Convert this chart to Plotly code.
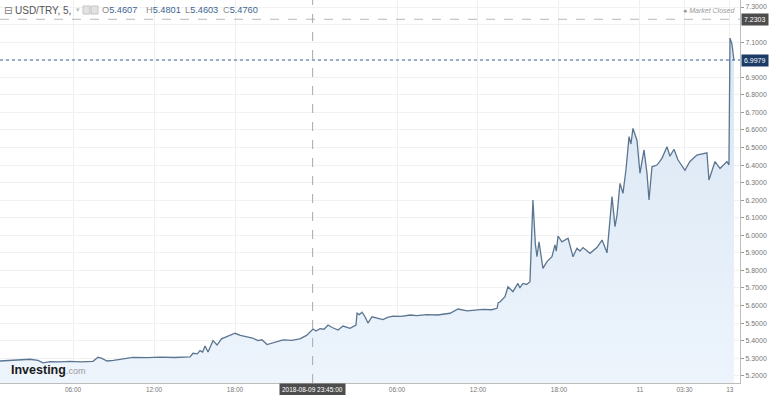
import plotly.graph_objects as go

# compressed trading hours since 2018-08-09 00:00 (weekend gaps removed)
hours = [0.59, 1.5, 2.81, 3.4, 3.78, 4.30, 5.0, 5.78, 6.6, 7.48, 7.85, 8.1, 8.52, 9.0, 9.70,
         10.44, 11.5, 12.44, 13.5, 14.67, 14.89, 15.2, 15.41, 15.6, 15.78, 16.00, 16.37, 16.67,
         17.0, 17.41, 18.00, 18.4, 18.89, 19.3, 19.70, 20.0, 20.37, 20.9, 21.56, 22.2, 22.81,
         23.3, 23.78, 24.0, 24.30, 24.6, 24.89, 25.2, 25.63, 26.00, 26.52, 26.96, 27.04, 27.2,
         27.41, 27.63, 27.85, 28.15, 28.5, 28.96, 29.3, 29.70, 30.3, 31.0, 31.48, 32.2, 33.0,
         33.93, 34.52, 35.19, 35.8, 36.37, 37.0, 37.41, 37.5, 37.63, 38.00, 38.22, 38.59, 38.96,
         39.1, 39.33, 39.6, 39.85, 40.07, 40.25, 40.37, 40.52, 40.81, 41.11, 41.48, 41.70, 41.8,
         41.93, 42.22, 42.67, 43.04, 43.33, 43.55, 43.78, 44.30, 44.81, 45.19, 45.56, 45.93,
         46.15, 46.30, 46.52, 46.74, 46.96, 47.19, 47.33, 47.48, 47.78, 48.00, 48.30, 48.52,
         48.67, 48.89, 49.26, 49.63, 50.00, 50.22, 50.52, 50.81, 51.33, 51.70, 52.22, 52.96,
         53.11, 53.56, 53.93, 54.44, 54.59, 54.67, 54.81, 54.96]
prices = [5.284, 5.288, 5.294, 5.288, 5.274, 5.281, 5.279, 5.282, 5.279, 5.282, 5.305, 5.300,
          5.284, 5.288, 5.297, 5.305, 5.303, 5.306, 5.304, 5.307, 5.328, 5.325, 5.343, 5.335,
          5.37, 5.335, 5.40, 5.375, 5.41, 5.422, 5.442, 5.43, 5.422, 5.415, 5.40, 5.405, 5.378,
          5.39, 5.404, 5.402, 5.41, 5.43, 5.466, 5.455, 5.468, 5.465, 5.489, 5.475, 5.46, 5.483,
          5.47, 5.489, 5.556, 5.548, 5.562, 5.536, 5.50, 5.536, 5.528, 5.52, 5.532, 5.54, 5.538,
          5.546, 5.543, 5.548, 5.546, 5.556, 5.58, 5.57, 5.574, 5.578, 5.576, 5.584, 5.616, 5.62,
          5.65, 5.707, 5.679, 5.726, 5.70, 5.726, 5.72, 5.736, 6.201, 5.95, 5.878, 5.963, 5.812,
          5.85, 5.878, 5.945, 5.91, 5.996, 5.963, 5.983, 5.878, 5.926, 5.91, 5.93, 5.897, 5.93,
          5.973, 5.90, 6.22, 6.049, 6.115, 6.296, 6.239, 6.372, 6.562, 6.52, 6.609, 6.54, 6.353,
          6.486, 6.353, 6.201, 6.39, 6.40, 6.438, 6.504, 6.45, 6.49, 6.43, 6.37, 6.42, 6.457,
          6.47, 6.315, 6.42, 6.38, 6.42, 6.40, 7.123, 7.09, 6.998]

x_tick_vals = [6, 12, 18, 30, 36, 42, 48, 51.3, 54.65]
x_tick_text = ["06:00", "12:00", "18:00", "06:00", "12:00", "18:00", "11", "03:30", "13"]
# 7.0 and 7.2 labels are hidden behind the price flags in the original
y_tick_vals = [5.2, 5.3, 5.4, 5.5, 5.6, 5.7, 5.8, 5.9, 6.0, 6.1, 6.2, 6.3, 6.4, 6.5, 6.6,
               6.7, 6.8, 6.9, 7.1, 7.3]
y_hidden_grid = [7.0, 7.2]
crosshair_hour = 23.75
crosshair_label = "2018-08-09 23:45:00"
high_price = 7.2303
last_price = 6.9979
header_symbol = "⊟"
header_name = "USD/TRY, 5,"
ohlc_keys = ["O", "H", "L", "C"]
ohlc_vals = ["5.4607", "5.4801", "5.4603", "5.4760"]
ohlc_pos = [100, 144, 183, 221]

FONT = "Liberation Sans"
W, H = 769, 395
PL, PR, PT, PB = 0, 29, 0, 12
pw, ph = W - PL - PR, H - PT - PB

def px(x):
    return x / pw

def py(y):
    return 1 - y / ph

fig = go.Figure()
fig.add_trace(go.Scatter(
    x=hours, y=prices, mode="lines",
    line=dict(color="#5b7591", width=1.3),
    fill="tozeroy",
    fillgradient=dict(type="vertical", start=5.16, stop=6.8,
                      colorscale=[[0, "#edf4fc"], [1, "#dce8f5"]]),
    hoverinfo="skip", showlegend=False,
))

shapes = [
    dict(type="line", xref="paper", x0=0, x1=1, yref="y", y0=g, y1=g, layer="below",
         line=dict(color="#f1f1f1", width=1)) for g in y_hidden_grid
] + [
    dict(type="line", xref="paper", x0=0, x1=1, yref="y", y0=high_price, y1=high_price,
         line=dict(color="#b8b8b8", width=1, dash="dash")),
    dict(type="line", xref="paper", x0=0, x1=1, yref="y", y0=last_price, y1=last_price,
         line=dict(color="#3f6795", width=1, dash="dot")),
    dict(type="line", xref="x", x0=crosshair_hour, x1=crosshair_hour, yref="paper", y0=0, y1=1,
         line=dict(color="#a8a8a8", width=1, dash="dash")),
    dict(type="rect", xref="paper", yref="paper", x0=px(83), x1=px(90), y0=py(14), y1=py(6),
         fillcolor="#e2e2e2", line=dict(color="#c4c4c4", width=1)),
    dict(type="rect", xref="paper", yref="paper", x0=px(91), x1=px(98), y0=py(14), y1=py(6),
         fillcolor="#e2e2e2", line=dict(color="#c4c4c4", width=1)),
]

annotations = [
    dict(text=header_symbol, xref="paper", yref="paper", x=px(2), y=py(10), xanchor="left",
         yanchor="middle", showarrow=False, font=dict(family="DejaVu Sans", size=10, color="#777")),
    dict(text=header_name, xref="paper", yref="paper", x=px(13), y=py(10), xanchor="left",
         yanchor="middle", showarrow=False, font=dict(family=FONT, size=10, color="#555")),
    dict(text="▾", xref="paper", yref="paper", x=px(74), y=py(10), xanchor="left",
         yanchor="middle", showarrow=False, font=dict(family="DejaVu Sans", size=7, color="#bbb")),
]
for k, v, p in zip(ohlc_keys, ohlc_vals, ohlc_pos):
    annotations.append(dict(
        text=f"<span style='color:#8a8a8a'>{k}</span>{v}", xref="paper", yref="paper",
        x=px(p), y=py(10), xanchor="left", yanchor="middle", showarrow=False,
        font=dict(family=FONT, size=9.2, color="#3d6591")))
annotations += [
    dict(text="● <i>Market Closed</i>", xref="paper", yref="paper", x=px(737), y=py(10),
         xanchor="right", yanchor="middle", showarrow=False,
         font=dict(family=FONT, size=7, color="#999")),
    dict(text=f"{high_price:.4f}", xref="paper", yref="y", x=1, y=high_price, xanchor="left",
         yanchor="middle", showarrow=False, bgcolor="#4d4d4d", borderpad=2, xshift=1,
         font=dict(family=FONT, size=7, color="#fff")),
    dict(text=f"{last_price:.4f}", xref="paper", yref="y", x=1, y=last_price, xanchor="left",
         yanchor="middle", showarrow=False, bgcolor="#1c3b66", borderpad=2, xshift=1,
         font=dict(family=FONT, size=7, color="#fff")),
    dict(text=crosshair_label, xref="x", yref="paper", x=crosshair_hour, y=0, xanchor="center",
         yanchor="top", showarrow=False, bgcolor="#4d4d4d", borderpad=2,
         font=dict(family=FONT, size=6.5, color="#fff")),
    dict(text="<b>Investing</b><span style='font-size:9px;color:#9a9a9a'>.com</span>",
         xref="paper", yref="paper", x=px(9), y=py(370), xanchor="left", yanchor="middle",
         showarrow=False, font=dict(family=FONT, size=12.5, color="#1a1a1a")),
]

fig.update_layout(
    width=W, height=H,
    margin=dict(l=PL, r=PR, t=PT, b=PB),
    paper_bgcolor="white", plot_bgcolor="white",
    font=dict(family=FONT, size=7, color="#777"),
    shapes=shapes, annotations=annotations,
    xaxis=dict(range=[0.59, 55.41], tickvals=x_tick_vals, ticktext=x_tick_text,
               showgrid=True, gridcolor="#efefef", gridwidth=1, zeroline=False,
               showline=True, linecolor="#bdbdbd", linewidth=1, ticks="", ticklen=0,
               tickfont=dict(family=FONT, size=6.5, color="#777")),
    yaxis=dict(range=[5.1588, 7.3399], side="right", tickvals=y_tick_vals, tickformat=".4f",
               showgrid=True, gridcolor="#f1f1f1", gridwidth=1, zeroline=False,
               showline=True, linecolor="#bdbdbd", linewidth=1, ticks="outside", ticklen=3,
               tickcolor="#999", tickfont=dict(family=FONT, size=7, color="#777")),
)

fig.write_html("out.html", config={"displayModeBar": False},
               post_script="document.body.style.margin='0px';document.body.style.overflow='hidden';")
